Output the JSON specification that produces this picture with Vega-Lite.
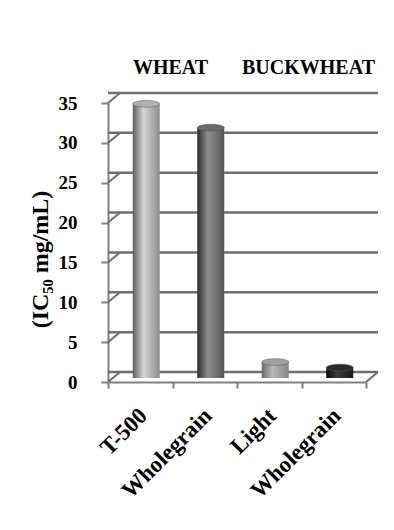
{
  "$schema": "https://vega.github.io/schema/vega-lite/v6.json",
  "width": 258,
  "height": 279,
  "padding": {"left": 28, "top": 58, "right": 5, "bottom": 5},
  "background": "white",
  "config": {
    "view": {"stroke": null},
    "font": "Liberation Serif",
    "axisY": {
      "tickCount": 8, "grid": false, "labelOverlap": false,
      "labelFont": "Liberation Serif", "labelFontWeight": "bold", "labelFontSize": 19, "labelColor": "black", "labelPadding": 24,
      "titleFont": "Liberation Serif", "titleFontWeight": "bold", "titleFontSize": 24, "titleColor": "black", "titlePadding": 6, "titleY": 156,
      "domainColor": "#808080", "domainWidth": 2, "tickColor": "#808080", "tickWidth": 2, "tickSize": 7
    },
    "axisX": {
      "tickBand": "extent", "labelAngle": -45, "labelAlign": "right", "labelBaseline": "top", "labelOffset": -5,
      "labelFont": "Liberation Serif", "labelFontWeight": "bold", "labelFontSize": 23, "labelColor": "black",
      "labelPadding": 16, "domainColor": "#808080", "domainWidth": 2, "tickColor": "#808080", "tickWidth": 2, "tickSize": 6
    }
  },
  "datasets": {
    "bars": [
      {"id": "W1", "label": "T-500", "group": "WHEAT", "ic50": 34.4},
      {"id": "W2", "label": "Wholegrain", "group": "WHEAT", "ic50": 31.4},
      {"id": "B1", "label": "Light", "group": "BUCKWHEAT", "ic50": 2.0},
      {"id": "B2", "label": "Wholegrain", "group": "BUCKWHEAT", "ic50": 1.3}
    ],
    "grid": [{"v": 0}, {"v": 5}, {"v": 10}, {"v": 15}, {"v": 20}, {"v": 25}, {"v": 30}, {"v": 35}],
    "groups": [{"group": "WHEAT", "at": "W2"}, {"group": "BUCKWHEAT", "at": "B2"}]
  },
  "layer": [
    {
      "data": {"name": "grid"},
      "mark": {"type": "rule", "color": "#6f6f6f", "strokeWidth": 2.5, "xOffset": 12, "yOffset": -10},
      "encoding": {
        "y": {
          "field": "v", "type": "quantitative",
          "scale": {"domain": [0, 35], "nice": false},
          "axis": {"title": "(IC₅₀ mg/mL)"}
        }
      }
    },
    {
      "data": {"name": "grid"},
      "mark": {"type": "point", "shape": "M0,0L1,-0.83", "size": 576, "filled": false, "stroke": "#6f6f6f", "strokeWidth": 2, "opacity": 1},
      "encoding": {
        "x": {"value": 0},
        "y": {"field": "v", "type": "quantitative"}
      }
    },
    {
      "data": {"values": [{"v": 0}]},
      "mark": {"type": "point", "shape": "M0,0L1,-0.83", "size": 576, "filled": false, "stroke": "#6f6f6f", "strokeWidth": 2, "opacity": 1},
      "encoding": {
        "x": {"datum": "B2", "type": "nominal", "bandPosition": 1},
        "y": {"field": "v", "type": "quantitative"}
      }
    },
    {
      "data": {"name": "bars"},
      "mark": {"type": "bar", "width": 27, "xOffset": 6, "yOffset": -4, "y2Offset": -4},
      "encoding": {
        "x": {
          "field": "id", "type": "nominal",
          "scale": {"domain": ["W1", "W2", "B1", "B2"], "paddingInner": 0, "paddingOuter": 0},
          "axis": {
            "title": null,
            "labelExpr": "datum.value === 'W1' ? 'T-500' : datum.value === 'B1' ? 'Light' : (datum.value === 'W2' || datum.value === 'B2') ? 'Wholegrain' : ''"
          }
        },
        "y": {"field": "ic50", "type": "quantitative", "axis": {"title": "(IC₅₀ mg/mL)"}},
        "fill": {
          "condition": [
            {"test": "datum.id === 'W1'", "value": {"gradient": "linear", "x1": 0, "x2": 1, "y1": 0, "y2": 0, "stops": [{"offset": 0, "color": "#5e5e5e"}, {"offset": 0.4, "color": "#d6d6d6"}, {"offset": 1, "color": "#8c8c8c"}]}},
            {"test": "datum.id === 'W2'", "value": {"gradient": "linear", "x1": 0, "x2": 1, "y1": 0, "y2": 0, "stops": [{"offset": 0, "color": "#2e2e2e"}, {"offset": 0.4, "color": "#8e8e8e"}, {"offset": 1, "color": "#555555"}]}},
            {"test": "datum.id === 'B1'", "value": {"gradient": "linear", "x1": 0, "x2": 1, "y1": 0, "y2": 0, "stops": [{"offset": 0, "color": "#6a6a6a"}, {"offset": 0.4, "color": "#b8b8b8"}, {"offset": 1, "color": "#858585"}]}}
          ],
          "value": {"gradient": "linear", "x1": 0, "x2": 1, "y1": 0, "y2": 0, "stops": [{"offset": 0, "color": "#0a0a0a"}, {"offset": 0.4, "color": "#3a3a3a"}, {"offset": 1, "color": "#1a1a1a"}]}
        }
      }
    },
    {
      "data": {"name": "bars"},
      "mark": {"type": "point", "shape": "M-1,0A1,0.25,0,1,1,1,0A1,0.25,0,1,1,-1,0Z", "size": 729, "filled": true, "opacity": 1, "xOffset": 6, "yOffset": -4, "strokeWidth": 0.5},
      "encoding": {
        "x": {"field": "id", "type": "nominal"},
        "y": {"field": "ic50", "type": "quantitative"},
        "fill": {
          "condition": [
            {"test": "datum.id === 'W1'", "value": "#b0b0b0"},
            {"test": "datum.id === 'W2'", "value": "#6a6a6a"},
            {"test": "datum.id === 'B1'", "value": "#a0a0a0"}
          ],
          "value": "#2a2a2a"
        },
        "stroke": {"value": "#555555"}
      }
    },
    {
      "data": {"name": "groups"},
      "transform": [{"filter": "datum.group === 'WHEAT'"}],
      "mark": {"type": "text", "font": "Liberation Serif", "fontWeight": "bold", "fontSize": 20, "color": "black", "dy": -29, "dx": -2, "baseline": "alphabetic", "align": "center"},
      "encoding": {
        "x": {"field": "at", "type": "nominal", "bandPosition": 0},
        "y": {"datum": 35},
        "text": {"field": "group"}
      }
    },
    {
      "data": {"name": "groups"},
      "transform": [{"filter": "datum.group === 'BUCKWHEAT'"}],
      "mark": {"type": "text", "font": "Liberation Serif", "fontWeight": "bold", "fontSize": 20, "color": "black", "dy": -29, "dx": 7, "baseline": "alphabetic", "align": "center"},
      "encoding": {
        "x": {"field": "at", "type": "nominal", "bandPosition": 0},
        "y": {"datum": 35},
        "text": {"field": "group"}
      }
    }
  ]
}
